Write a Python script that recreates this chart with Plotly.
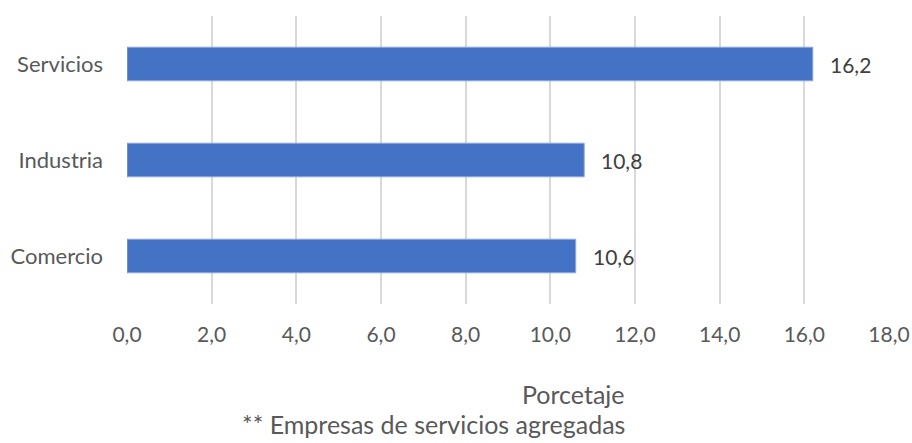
import plotly.graph_objects as go

categories = ["Comercio", "Industria", "Servicios"]
values = [10.6, 10.8, 16.2]
x_ticks = [0, 2, 4, 6, 8, 10, 12, 14, 16, 18]
axis_title = "Porcetaje"
note = "** Empresas de servicios agregadas"

FONT = "Lato, 'Open Sans', sans-serif"
GREY = "#595959"

W, H = 912, 443
L, T = 127, 16
R = W - 889
B = H - 304
pw = W - L - R
ph = H - T - B

fig = go.Figure()
fig.add_trace(go.Bar(
    y=categories, x=values, orientation="h",
    marker=dict(color="#4472C4", line=dict(color="#8FAADC", width=1)),
    width=0.35,
    hoverinfo="x+y",
))

for c, v in zip(categories, values):
    fig.add_annotation(
        x=v, y=c, xref="x", yref="y",
        text=f"{v:.1f}".replace(".", ","),
        showarrow=False, xanchor="left", xshift=15,
        font=dict(family=FONT, size=21, color="#404040"),
    )

def px_to_paper(px, py):
    return (px - L) / pw, 1 - (py - T) / ph

ax_x, ax_y = px_to_paper(573, 394)
fig.add_annotation(x=ax_x, y=ax_y, xref="paper", yref="paper", text=axis_title,
                   showarrow=False, xanchor="center", yanchor="middle",
                   font=dict(family=FONT, size=25, color=GREY))
nt_x, nt_y = px_to_paper(433, 424)
fig.add_annotation(x=nt_x, y=nt_y, xref="paper", yref="paper", text=note,
                   showarrow=False, xanchor="center", yanchor="middle",
                   font=dict(family=FONT, size=25, color=GREY))

fig.update_layout(
    width=W, height=H,
    margin=dict(l=L, r=R, t=T, b=B, autoexpand=False),
    plot_bgcolor="white", paper_bgcolor="white",
    separators=",.",
    showlegend=False,
    font=dict(family=FONT, size=21, color=GREY),
)

fig.update_xaxes(
    range=[0, 18], tickvals=x_ticks, tickformat=".1f",
    showgrid=True, gridcolor="#D9D9D9", gridwidth=1.5,
    zeroline=False, showline=False, ticks="",
    ticklabelstandoff=16, automargin=False, ticklabeloverflow="allow",
    tickfont=dict(family=FONT, size=21, color=GREY),
)
fig.update_yaxes(
    showgrid=False, zeroline=False, showline=False, ticks="",
    ticklabelstandoff=23, automargin=False,
    tickfont=dict(family=FONT, size=22, color=GREY),
)

fig.write_html(
    "out.html",
    config={"displayModeBar": False},
    post_script="document.body.style.margin='0';document.body.style.overflow='hidden';",
)
